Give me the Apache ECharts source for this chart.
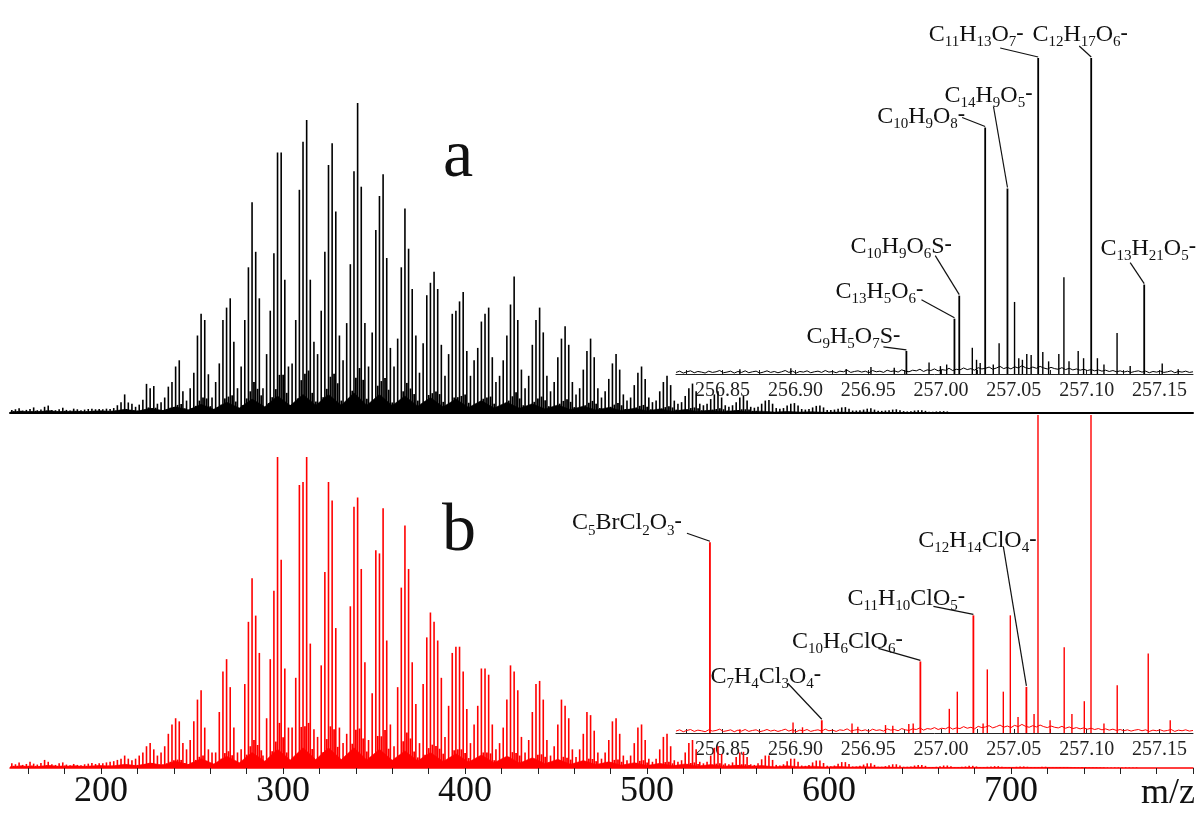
<!DOCTYPE html>
<html>
<head>
<meta charset="utf-8">
<script src="https://cdn.jsdelivr.net/npm/echarts@6/dist/echarts.min.js"></script>
<style>
html,body{margin:0;padding:0;background:#fff}
#chart{width:1202px;height:813px}
</style>
</head>
<body>
<div id="chart"></div>
<script>
// ---- full-range spectra: relative intensity (%) of odd nominal masses m/z 151, 153, 155, ...
const oddStart = 151;
const oddStep = 2;
const spectrumA = [
  1.0,1.2,1.5,0.8,1.0,1.3,1.8,0.9,1.1,2.0,2.4,1.0,0.9,1.2,1.7,1.0,0.8,1.4,1.2,0.9,1.1,1.3,1.4,1.2,1.3,
  1.2,1.4,1.3,1.6,2.5,3.5,6,3.4,3,2,2.7,4.3,9.4,8,8.7,3,3.5,5,8.5,10,15,17,7,4,8,
  13,25,32,30,12.5,5,10,16,30,34,37,23,8,15,30,47,68,52,37,8,19,33,51.5,84,84,
  43,15,16,30,72,87.5,94.5,43,23,19,33,52,80,87,65,25,17,29,48,78,100,73,29,15,26,
  59,70,77,50,21,15,24,47,66,53,40,25,13,22.5,38,42,45.6,40,22,12,19,32,33,36,39,
  20,12,17,21,29.5,32,34,18,10,12,17,25,35,44,30,14,8,12,22,30,34,26,12,7,10,
  18,24,28,22,10,6,8,14,20,24,18,8,5,7,11,16,19,14,6,4,5,9,13,15,11,
  5,3.5,4,7,10,12,9,4,3,3.5,5.5,8,9.5,7,3,2.5,3,4.5,6,7,5,2.5,2,2.5,3.5,
  5,5.5,4,2,1.7,2,3,4,4.2,3,1.6,1.4,1.6,2.4,3,3.2,2.4,1.3,1.1,1.3,1.8,2.3,2.4,1.8,1,
  1,1.1,1.4,1.8,1.9,1.4,0.8,0.8,0.9,1.1,1.4,1.5,1.1,0.7,0.7,0.8,0.9,1.1,1.2,0.9,0.6,0.5,0.6,0.8,0.9,
  0.9,0.7,0.4,0.4,0.5,0.6,0.6,0.5,0.3
];
const spectrumB = [
  1.5,1.2,1.8,1.0,1.3,2.0,1.4,1.1,1.6,2.6,2.0,1.2,1.0,1.5,1.8,1.1,0.9,1.3,1.0,0.9,1.2,1.4,1.6,1.3,1.5,
  1.5,1.8,2,2.2,2.6,3,4,3,2.5,3,4,5,7,8,6,4,5,7,11,14,16,15,8,6,9,
  15,22,25,13,6,5,5,18,31,35,26,13,5,6,27,47,61,49,37,4,16,35,57,100,67,
  32,13,13,29,91,92,100,40,12.5,10,33,63,92,86,45,13,8,11,52,84,87,64,34,9,24,
  70,69,83.5,41,14,7,26,58,78,64,34,20.6,8,27,42,50,47,41,29,10,20,37,39,39,31,
  19,8,14,20,32,32,30,14,6,8,13,22,33,31,25,10,5,9,18,27,28,22,9,4,7,
  14,22,20,16,6,3.5,6,11,18,17,12,5,3,5,9,15,16,11,4,2.5,4,8,13,14,9,
  3,2,3,6,10,11,7,2.5,2,2.5,5,8,9,6,2,1.5,2,4,6.5,7,4.5,1.5,1.2,1.8,3.5,
  5,5.2,3.5,1.2,1,1.5,2.8,4,4,2.6,1,0.8,1.2,2.2,3,3,2,0.8,0.7,1,1.8,2.4,2.4,1.6,0.7,
  0.6,0.8,1.4,1.9,1.9,1.3,0.5,0.5,0.7,1.1,1.5,1.5,1,0.4,0.4,0.6,0.9,1.2,1.2,0.8,0.4,0.4,0.5,0.8,1,
  1,0.7,0.3,0.3,0.4,0.6,0.8,0.8,0.6,0.3,0.3,0.4,0.5,0.7,0.7,0.5,0.3,0.3,0.4,0.5,0.6,0.6,0.4,0.3,0.3,
  0.3,0.4,0.5,0.5,0.4,0.3,0.3,0.3,0.4,0.4,0.3,0.2,0.2,0.3,0.3,0.3,0.2,0.2,0.2,0.3,0.3,0.2,0.2,0.2,0.2,
  0.2,0.2,0.2,0.2,0.2,0.2,0.2,0.2,0.2,0.2
];
// even nominal masses m/z 152, 154, ... (isotope and odd-electron peaks)
const evenStart = 152;
const evenStep = 2;
const evenA = [
  0.6,0.6,0.7,0.5,0.5,0.6,0.7,0.5,0.5,0.8,0.8,0.5,0.5,0.6,0.7,0.5,0.5,0.6,0.6,0.5,0.6,0.6,0.7,0.6,0.7,
  0.7,0.7,0.7,0.8,0.9,1.0,1.3,1.0,0.9,0.8,0.9,1.1,1.8,1.6,1.7,0.9,1.0,1.2,1.7,1.9,2.6,2.9,1.5,1.1,1.6,
  2.3,4,5,4.7,2.2,1.2,1.9,2.7,4.7,5.3,5.7,3.7,1.6,2.6,4.7,7,10,7.8,5.7,1.6,3.2,5.1,7.7,12.3,12.3,
  6.5,2.6,2.7,4.7,10.6,12.7,13.7,6.5,3.7,3.2,5.1,7.8,11.7,12.7,9.6,4,2.9,4.6,7.2,11.4,14.5,10.7,4.6,2.6,4.1,
  8.8,10.3,11.3,7.5,3.4,2.6,3.9,7,9.7,7.9,6.1,4,2.3,3.6,5.8,6.4,6.9,6.1,3.6,2.2,3.2,5,5.1,5.5,6,
  3.3,2.2,2.9,3.4,4.6,5,5.3,3,1.9,2.2,2.9,4,5.4,6.7,4.7,2.5,1.6,2.2,3.6,4.7,5.3,4.1,2.2,1.5,1.9,
  3,3.9,4.4,3.6,1.9,1.3,1.6,2.5,3.3,3.9,3,1.6,1.2,1.5,2,2.7,3.2,2.5,1.3,1.1,1.2,1.8,2.3,2.6,2,
  1.2,1,1.1,1.5,1.9,2.2,1.8,1.1,0.9,1,1.2,1.6,1.8,1.5,0.9,0.8,0.9,1.1,1.3,1.5,1.2,0.8,0.7,0.8,1,
  1.2,1.2,1.1,0.7,0.7
];
const evenB = [
  0.7,0.7,0.8,0.6,0.7,0.8,0.7,0.6,0.7,0.9,0.8,0.7,0.6,0.7,0.8,0.6,0.6,0.7,0.6,0.6,0.7,0.7,0.7,0.7,0.7,
  0.7,0.8,0.8,0.8,0.9,1,1.1,1,0.9,1,1.1,1.2,1.5,1.6,1.3,1.1,1.2,1.5,2,2.5,2.7,2.6,1.6,1.3,1.8,
  2.6,3.6,4,2.3,1.3,1.2,1.2,3,4.8,5.4,4.1,2.3,1.2,1.3,4.3,7,9,7.4,5.7,1.1,2.7,5.4,8.5,14.5,9.9,
  5,2.3,2.3,4.6,13.2,13.4,14.5,6.1,2.3,1.9,5.1,9.3,13.4,12.5,6.8,2.3,1.6,2,7.8,12.3,12.7,9.5,5.3,1.8,3.9,
  10.3,10.2,12.2,6.2,2.5,1.5,4.1,8.6,11.4,9.5,5.3,3.4,1.6,4.3,6.4,7.5,7.1,6.2,4.6,1.9,3.3,5.7,6,6,4.8,
  3.2,1.6,2.5,3.3,5,5,4.7,2.5,1.3,1.6,2.3,3.6,5.1,4.8,4,1.9,1.2,1.8,3,4.3,4.4,3.6,1.8,1.1,1.5,
  2.5,3.6,3.3,2.7,1.3,1,1.3,2,3,2.9,2.2,1.2,0.9,1.2,1.8,2.6,2.7,2,1.1,0.9,1.1,1.6,2.3,2.5,1.8,
  0.9,0.8,0.9,1.3,1.9,2,1.5,0.8,0.8,0.8,1.2,1.6,1.8,1.3,0.8,0.7,0.8,1.1,1.4,1.5,1.1,0.7,0.7,0.8,1,
  1.2,1.2,1,0.7,0.6
];
// unresolved background under each CH2 cluster, sampled every 7 Da from m/z 150
const humpStart = 150;
const humpStep = 7;
const humpA = [
  0.3,0.5,0.4,0.7,0.4,0.6,0.4,0.7,0.5,1.2,0.6,1.5,0.8,2,1,2.8,1.2,3.5,1.6,4.5,2,5.5,2.4,6,2.5,6,2.5,6.5,2.5,6,2.4,5.5,2.2,5,2,4.5,1.8,4,1.6,3.5,
  1.5,3,1.3,2.6,1.1,2.2,1,1.8,0.8,1.5,0.7,1.3,0.6,1.1,0.5,0.9,0.4,0.8,0.4,0.6,0.3,0.5,0.3,0.4,0.2,0.3,0.2,0.3,0.2,0.2,0.1,0.2,0.1,0.1,0
];
const humpB = [
  0.4,0.6,0.4,0.8,0.5,0.7,0.5,0.8,0.6,1.2,0.7,1.6,0.9,2.2,1.1,3,1.3,3.8,1.7,5,2.2,6,2.6,6.5,2.7,6.5,2.7,6.5,2.6,6,2.5,5.5,2.3,5,2.1,4.6,1.9,4.2,1.7,3.8,
  1.6,3.3,1.4,2.8,1.2,2.4,1.1,2,0.9,1.7,0.8,1.5,0.7,1.3,0.6,1.1,0.5,0.9,0.5,0.8,0.4,0.7,0.4,0.6,0.3,0.5,0.3,0.4,0.3,0.3,0.2,0.3,0.2,0.2,
  0.2,0.2,0.2,0.2,0.2,0.2,0.2,0.2,0.2,0.2,0.1,0.1,0
];
const mainTicks = [160,180,200,220,240,260,280,300,320,340,360,380,400,420,440,460,480,500,520,540,560,580,600,620,640,660,680,700,720,740,760,780,800];
const mainLabels = [200,300,400,500,600,700];

// ---- expanded view of nominal mass 257
const zoomTicks = [256.825,256.85,256.875,256.9,256.925,256.95,256.975,257.0,257.025,257.05,257.075,257.1,257.125,257.15];
const zoomLabels = [256.85,256.9,256.95,257.0,257.05,257.1,257.15];

const ionsA = ['C11H13O7-','C12H17O6-','C14H9O5-','C10H9O8-','C10H9O6S-','C13H5O6-','C9H5O7S-','C13H21O5-'];
const ionMzA = [257.0667,257.1031,257.0456,257.0303,257.0125,257.0092,256.9762,257.1395];
const ionIntA = [100,100,58.7,78,24.8,17.5,7.3,28.3];
const minorMzA = [256.862,256.897,256.935,256.952,256.968,256.9919,256.9997,257.004,257.0216,257.0245,257.027,257.036,257.04,257.0506,257.0535,257.056,257.059,257.062,257.07,257.074,257.081,257.0845,257.088,257.0943,257.098,257.1075,257.112,257.121,257.13,257.152,257.163];
const minorIntA = [1.5,1.8,1.6,2.2,2.0,3.6,2.5,3,8.3,4.5,3.5,3,9.7,22.8,5,4.5,6.3,6,7,4,6.3,30.6,4,7.3,5,5,3,13,2.5,3.3,1.5];

const ionsB = ['C5BrCl2O3-','C7H4Cl3O4-','C10H6ClO6-','C11H10ClO5-','C12H14ClO4-'];
const ionMzB = [256.8413,256.9181,256.9858,257.0222,257.0586];
const ionIntB = [60,4,22.5,37,14.5];
const minorMzB = [256.862,256.8985,256.905,256.939,256.943,256.962,256.967,256.978,256.981,257.0058,257.0113,257.029,257.0319,257.0429,257.0477,257.053,257.064,257.0667,257.075,257.0847,257.09,257.0985,257.1031,257.112,257.1211,257.1424,257.1575];
const minorIntB = [1.2,3.3,1.8,3,2,2.5,2.3,2.8,3,7.6,13,3,20,13,37,5,6,100,4,27,6,10,100,3,15,25,4];

// baseline noise of the expanded views, every 0.0025 from 256.818
const noiseStart = 256.818;
const noiseStep = 0.0025;
const noiseA = [
  0.5,0.9,0.3,0.7,1.0,0.4,0.8,0.6,0.3,0.9,0.5,0.7,1.1,0.4,0.6,0.9,0.3,0.8,0.5,1.0,
  0.4,0.7,0.9,0.3,0.6,1.0,0.5,0.8,0.4,0.7,1.1,0.5,0.9,0.3,0.8,0.6,1.0,0.4,0.7,0.9,
  0.5,1.1,0.6,0.8,0.4,0.9,0.7,1.2,0.5,0.8,1.0,0.6,0.9,0.4,1.1,0.7,0.9,0.5,1.2,0.8,
  1.0,0.6,1.3,0.9,0.7,1.2,1.0,1.5,0.8,1.3,1.1,1.6,1.0,1.4,1.2,1.8,1.1,1.5,1.3,1.9,
  1.4,1.7,1.2,2.0,1.6,1.8,2.2,1.5,1.9,2.4,1.7,2.1,1.6,2.3,1.9,2.6,2.0,1.7,2.2,1.8,
  2.4,1.9,1.6,2.1,1.7,1.5,2.0,1.4,1.8,1.3,1.6,1.2,1.5,1.1,1.4,1.0,1.3,0.9,1.2,0.8,
  1.1,0.7,1.0,0.6,0.9,0.5,0.8,1.0,0.6,0.9,0.4,0.8,0.6,0.9,0.5,0.7,1.0,0.4,0.8,0.6,0.9,0.5,0.7
];
const noiseB = [
  0.6,1.0,0.4,0.8,1.1,0.5,0.9,0.7,0.4,1.0,0.6,0.8,1.2,0.5,0.7,1.0,0.4,0.9,0.6,1.1,
  0.5,0.8,1.0,0.4,0.7,1.1,0.6,0.9,0.5,0.8,1.2,0.6,1.0,0.4,0.9,0.7,1.1,0.5,0.8,1.0,
  0.6,1.2,0.7,0.9,0.5,1.0,0.8,1.3,0.6,0.9,1.1,0.7,1.0,0.5,1.2,0.8,1.0,0.6,1.3,0.9,
  1.1,0.7,1.4,1.0,0.8,1.3,1.1,1.6,0.9,1.4,1.2,1.7,1.1,1.5,1.3,1.9,1.2,1.6,1.4,2.0,
  1.5,1.8,1.3,2.1,1.7,1.9,2.3,1.6,2.0,2.5,1.8,2.2,1.7,2.4,2.0,2.7,2.1,1.8,2.3,1.9,
  2.5,2.0,1.7,2.2,1.8,1.6,2.1,1.5,1.9,1.4,1.7,1.3,1.6,1.2,1.5,1.1,1.4,1.0,1.3,0.9,
  1.2,0.8,1.1,0.7,1.0,0.6,0.9,1.1,0.7,1.0,0.5,0.9,0.7,1.0,0.6,0.8,1.1,0.5,0.9,0.7,1.0,0.6,0.8
];

// label placement: text centre and leader start, in pixels from the peak apex
const ionTextA = [[-62,-26],[-11,-26],[-19,-96],[-64,-14],[-58,-52],[-75,-30],[-53,-17],[4,-39]];
const ionLeadA = [[-38,-10],[-12,-12],[-14,-82],[-23,-10],[-24,-40],[-33,-19],[-23,-4],[-14,-22]];
const ionTextB = [[-83,-22],[-56,-47],[-73,-23],[-67,-20],[-49,-149]];
const ionLeadB = [[-23,-9],[-34,-37],[-42,-13],[-40,-9],[-23,-140]];

const SERIF = '"Liberation Serif", "DejaVu Serif", serif';
const BLACK = '#000000';
const RED = '#ff0000';

// formula -> rich text: digits as subscripts, trailing '-' as superscript charge
function formula(s) {
  let out = '';
  let i = 0;
  while (i < s.length) {
    const c = s[i];
    let j = i;
    if (/\d/.test(c)) { while (j < s.length && /\d/.test(s[j])) j++; out += '{s|' + s.slice(i, j) + '}'; }
    else if (c === '-') { j = i + 1; out += '{p|-}'; }
    else { while (j < s.length && /[A-Za-z]/.test(s[j])) j++; out += '{m|' + s.slice(i, j) + '}'; }
    i = j;
  }
  return out;
}
const richFormula = {
  m: { fontFamily: SERIF, fontSize: 24, lineHeight: 24, padding: [3, 0, 3, 0], verticalAlign: 'top', fill: '#111' },
  s: { fontFamily: SERIF, fontSize: 15, lineHeight: 15, padding: [15, 0, 0, 0], verticalAlign: 'top', fill: '#111' },
  p: { fontFamily: SERIF, fontSize: 22, fontWeight: 'bold', lineHeight: 16, padding: [2, 0, 12, 0], verticalAlign: 'top', fill: '#111' }
};

function pairs(start, step, values) { return values.map((v, i) => [+(start + step * i).toFixed(4), v]); }
function zip(xs, ys) { return xs.map((x, i) => [x, ys[i]]); }

function annotations(names, mzs, ints, textOff, leadOff, xi, yi) {
  return {
    type: 'custom', xAxisIndex: xi, yAxisIndex: yi, clip: false, silent: true, z: 20,
    data: zip(mzs, ints),
    renderItem(params, api) {
      const k = params.dataIndex;
      const p = api.coord([api.value(0), api.value(1)]);
      return {
        type: 'group',
        children: [
          { type: 'line', shape: { x1: p[0] + leadOff[k][0], y1: p[1] + leadOff[k][1], x2: p[0], y2: p[1] - 1 },
            style: { stroke: '#111', lineWidth: 1.2 } },
          { type: 'text', x: p[0] + textOff[k][0], y: p[1] + textOff[k][1],
            style: { text: formula(names[k]), rich: richFormula, align: 'center', verticalAlign: 'middle' } }
        ]
      };
    }
  };
}

function sticks(data, xi, yi, color, width, z) {
  return { type: 'bar', xAxisIndex: xi, yAxisIndex: yi, data: data, barWidth: width, barGap: '-100%',
           itemStyle: { color: color }, silent: true, z: z || 3 };
}
function area(data, xi, yi, color) {
  return { type: 'line', xAxisIndex: xi, yAxisIndex: yi, data: data, symbol: 'none', silent: true, z: 2,
           lineStyle: { width: 0.6, color: color }, areaStyle: { color: color, opacity: 1 } };
}
function trace(data, xi, yi, color) {
  return { type: 'line', xAxisIndex: xi, yAxisIndex: yi, data: data, symbol: 'none', silent: true, z: 2,
           lineStyle: { width: 1, color: color } };
}

const zoomAxis = (gi) => ({
  type: 'value', gridIndex: gi, min: 256.818, max: 257.173,
  axisLine: { show: true, onZero: false, lineStyle: { color: '#222', width: 1 } },
  axisTick: { show: true, inside: true, length: 4, customValues: zoomTicks, lineStyle: { color: '#222' } },
  axisLabel: { show: true, customValues: zoomLabels, margin: 7, fontFamily: SERIF, fontSize: 20, color: '#222',
               formatter: v => v.toFixed(2) },
  splitLine: { show: false }
});
const hiddenY = (gi) => ({ type: 'value', gridIndex: gi, min: 0, max: 100, show: false, splitLine: { show: false } });

const chart = echarts.init(document.getElementById('chart'), null, { renderer: 'canvas' });
chart.setOption({
  animation: false,
  backgroundColor: '#ffffff',
  grid: [
    { left: 10, top: 103, width: 1183, height: 310 },
    { left: 10, top: 457, width: 1183, height: 311 },
    { left: 676, top: 58, width: 517, height: 316 },
    { left: 676, top: 415, width: 517, height: 318 }
  ],
  xAxis: [
    { type: 'value', gridIndex: 0, min: 150, max: 800,
      axisLine: { show: true, onZero: false, lineStyle: { color: BLACK, width: 2 } },
      axisTick: { show: false }, axisLabel: { show: false }, splitLine: { show: false } },
    { type: 'value', gridIndex: 1, min: 150, max: 800,
      name: 'm/z', nameLocation: 'end', nameGap: 2,
      nameTextStyle: { fontFamily: SERIF, fontSize: 36, color: '#111', align: 'right', verticalAlign: 'top', padding: [8, 0, 0, 0] },
      axisLine: { show: true, onZero: false, lineStyle: { color: RED, width: 1.5 } },
      axisTick: { show: true, length: 6, customValues: mainTicks, lineStyle: { color: '#222', width: 1 } },
      axisLabel: { show: true, customValues: mainLabels, margin: 6, fontFamily: SERIF, fontSize: 36, color: '#111' },
      splitLine: { show: false } },
    zoomAxis(2),
    zoomAxis(3)
  ],
  yAxis: [hiddenY(0), hiddenY(1), hiddenY(2), hiddenY(3)],
  graphic: [
    { type: 'text', x: 458, y: 158, style: { text: 'a', font: '68px ' + SERIF, fill: '#111', align: 'center', verticalAlign: 'middle' } },
    { type: 'text', x: 459, y: 532, style: { text: 'b', font: '68px ' + SERIF, fill: '#111', align: 'center', verticalAlign: 'middle' } }
  ],
  series: [
    area(pairs(humpStart, humpStep, humpA), 0, 0, BLACK),
    sticks(pairs(evenStart, evenStep, evenA), 0, 0, BLACK, 1.8),
    sticks(pairs(oddStart, oddStep, spectrumA), 0, 0, BLACK, 1.6),
    area(pairs(humpStart, humpStep, humpB), 1, 1, RED),
    sticks(pairs(evenStart, evenStep, evenB), 1, 1, RED, 1.8),
    sticks(pairs(oddStart, oddStep, spectrumB), 1, 1, RED, 1.6),

    trace(pairs(noiseStart, noiseStep, noiseA), 2, 2, BLACK),
    sticks(zip(minorMzA, minorIntA), 2, 2, BLACK, 1.4),
    sticks(zip(ionMzA, ionIntA), 2, 2, BLACK, 1.8),
    annotations(ionsA, ionMzA, ionIntA, ionTextA, ionLeadA, 2, 2),

    trace(pairs(noiseStart, noiseStep, noiseB), 3, 3, RED),
    sticks(zip(minorMzB, minorIntB), 3, 3, RED, 1.4),
    sticks(zip(ionMzB, ionIntB), 3, 3, RED, 1.8),
    annotations(ionsB, ionMzB, ionIntB, ionTextB, ionLeadB, 3, 3)
  ]
});
</script>
</body>
</html>
